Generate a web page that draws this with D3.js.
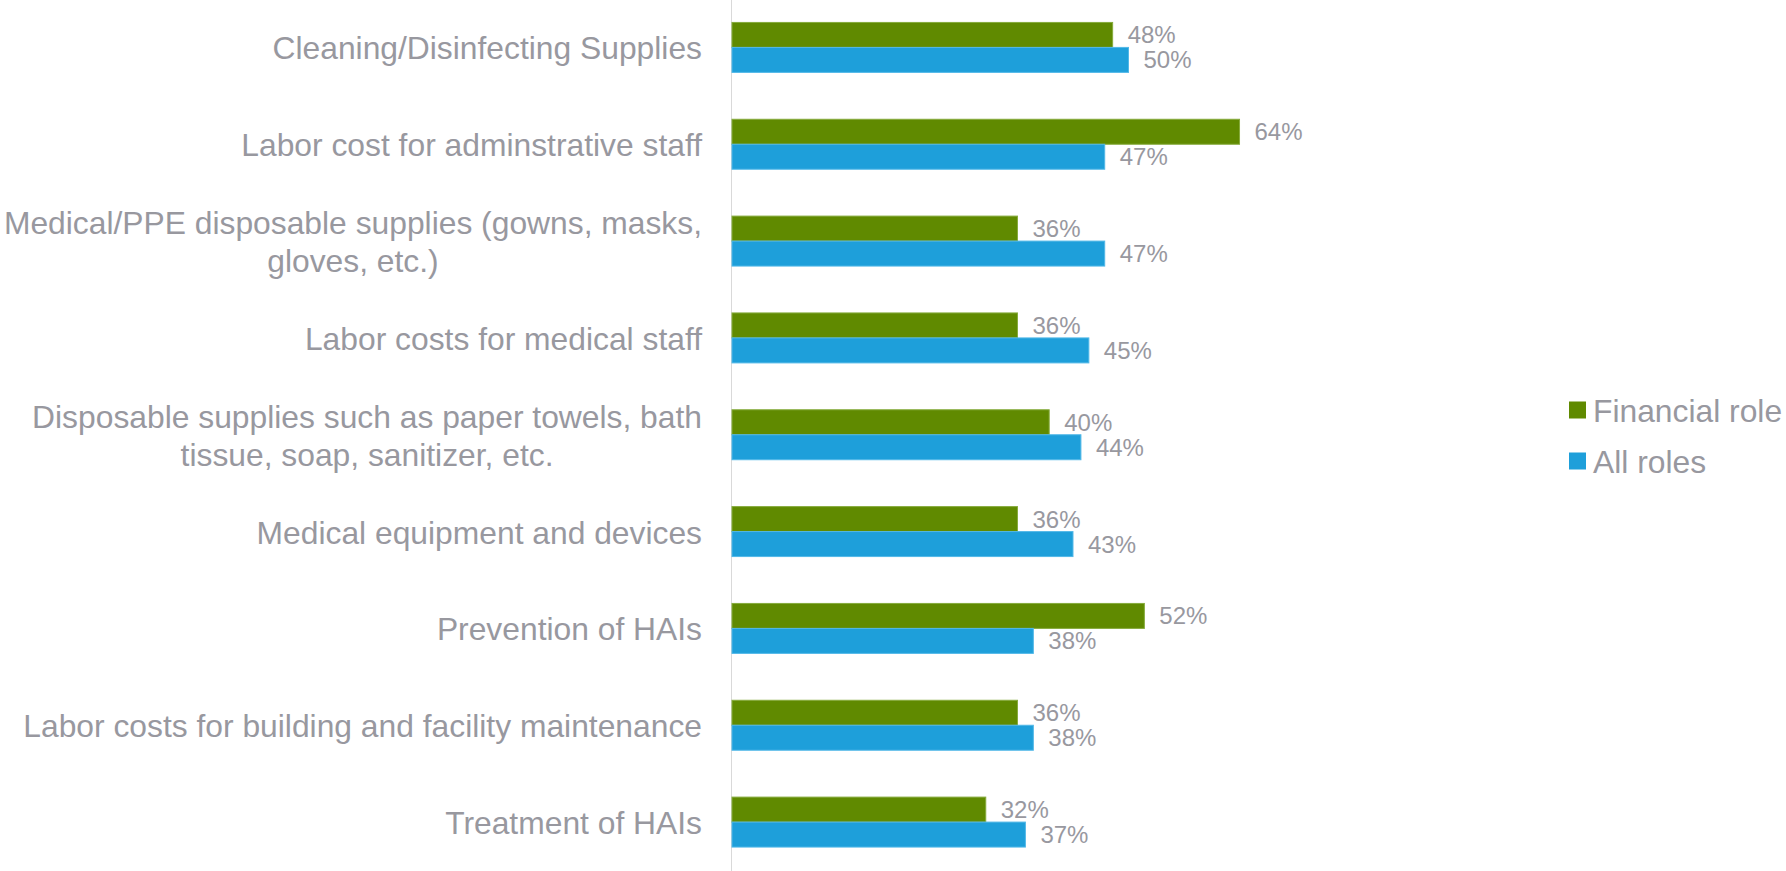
<!DOCTYPE html>
<html>
<head>
<meta charset="utf-8">
<script src="https://cdn.jsdelivr.net/npm/d3@7"></script>
<style>
  html, body { margin: 0; padding: 0; background: #ffffff; }
  svg { display: block; }
  text { font-family: "Liberation Sans", Arial, Helvetica, sans-serif; }
</style>
</head>
<body>
<svg id="chart" width="1786" height="871"></svg>
<script>
// Cost areas (each may wrap onto several lines)
const categories = [
  ["Cleaning/Disinfecting Supplies"],
  ["Labor cost for adminstrative staff"],
  ["Medical/PPE disposable supplies (gowns, masks,", "gloves, etc.)"],
  ["Labor costs for medical staff"],
  ["Disposable supplies such as paper towels, bath", "tissue, soap, sanitizer, etc."],
  ["Medical equipment and devices"],
  ["Prevention of HAIs"],
  ["Labor costs for building and facility maintenance"],
  ["Treatment of HAIs"]
];

// Share of respondents, per series
const financialRole = [0.48, 0.64, 0.36, 0.36, 0.40, 0.36, 0.52, 0.36, 0.32];
const allRoles      = [0.50, 0.47, 0.47, 0.45, 0.44, 0.43, 0.38, 0.38, 0.37];

const seriesNames = ["Financial role", "All roles"];
const seriesColors = ["#608a00", "#1e9fda"];
const seriesStrokes = ["#86ab3c", "#52b8e8"];

const textColor = "#98989f";

const svg = d3.select("#chart");
const W = 1786, H = 871;

const x0 = 732;
const x = d3.scaleLinear().domain([0, 1]).range([x0, x0 + 793]);

const catIdx = d3.range(categories.length);
const y = d3.scaleBand().domain(catIdx).range([-1, 870.5]).paddingInner(0.484).paddingOuter(0.242);
const ySub = d3.scaleBand().domain([0, 1]).range([0, y.bandwidth()]);

const series = [financialRole, allRoles];

// vertical category axis line
svg.append("line")
  .attr("x1", 731.5).attr("x2", 731.5)
  .attr("y1", 0).attr("y2", H)
  .attr("stroke", "#d9d9d9").attr("stroke-width", 1);

// bars
const groups = svg.append("g").selectAll("g")
  .data(catIdx)
  .join("g")
  .attr("transform", i => `translate(0,${y(i)})`);

series.forEach((vals, s) => {
  groups.append("rect")
    .attr("x", x(0))
    .attr("y", ySub(s))
    .attr("width", i => x(vals[i]) - x(0))
    .attr("height", ySub.bandwidth())
    .attr("fill", seriesColors[s])
    .attr("stroke", seriesStrokes[s])
    .attr("stroke-width", 1);

  groups.append("text")
    .attr("x", i => x(vals[i]) + 15)
    .attr("y", ySub(s) + ySub.bandwidth() / 2)
    .attr("dominant-baseline", "central")
    .attr("font-size", 24)
    .attr("fill", textColor)
    .text(i => d3.format(".0%")(vals[i]));
});

// category labels: block right-aligned to the axis, lines centred within block
const labelRight = 702;
const fontSize = 31.8, lineH = 38.3;
catIdx.forEach(i => {
  const lines = categories[i];
  const cy = y(i) + y.bandwidth() / 2;
  const g = svg.append("g");
  const texts = lines.map((ln, k) => g.append("text")
    .attr("font-size", fontSize)
    .attr("fill", textColor)
    .attr("dominant-baseline", "central")
    .attr("y", cy + 1 + (k - (lines.length - 1) / 2) * lineH)
    .text(ln));
  const widths = texts.map(t => t.node().getComputedTextLength());
  const maxW = d3.max(widths);
  const center = labelRight - maxW / 2;
  texts.forEach(t => t.attr("x", center).attr("text-anchor", "middle"));
});

// legend
const legend = svg.append("g");
seriesNames.forEach((name, s) => {
  const ly = 410 + s * 51;
  legend.append("rect")
    .attr("x", 1569).attr("y", ly - 8.5)
    .attr("width", 17).attr("height", 17)
    .attr("fill", seriesColors[s]);
  legend.append("text")
    .attr("x", 1593).attr("y", ly + 1)
    .attr("dominant-baseline", "central")
    .attr("font-size", 31.8)
    .attr("fill", textColor)
    .text(name);
});
</script>
</body>
</html>
